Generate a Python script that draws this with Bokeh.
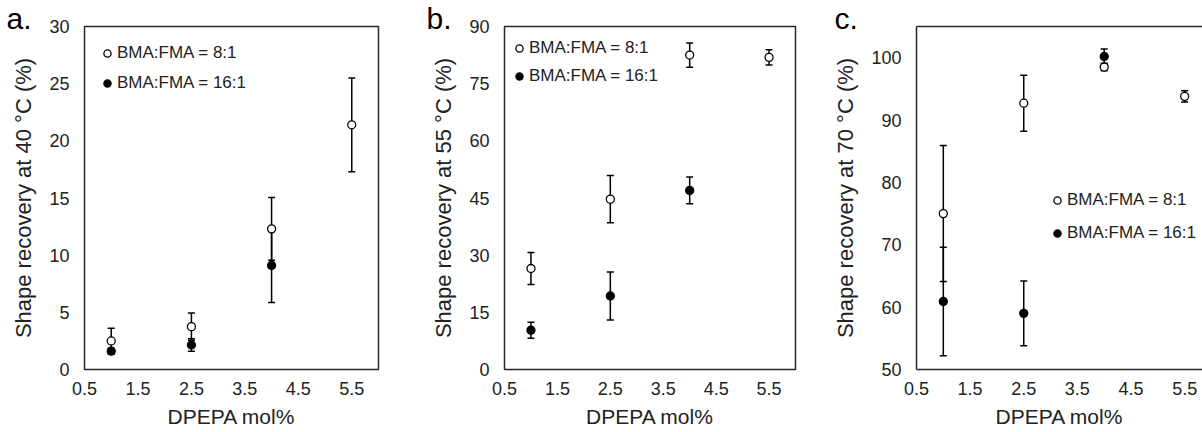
from bokeh.plotting import figure
from bokeh.layouts import row
from bokeh.models import (ColumnDataSource, Whisker, FixedTicker, Range1d, Legend,
                          LegendItem, Title, LinearAxis, TeeHead)
from bokeh.embed import file_html
from bokeh.resources import INLINE

# ---------------- data ----------------
x_ticks = [0.5, 1.5, 2.5, 3.5, 4.5, 5.5]
x_81 = [1.0, 2.5, 4.0, 5.5]
x_161 = [1.0, 2.5, 4.0]
series_labels = ["BMA:FMA = 8:1", "BMA:FMA = 16:1"]
x_title = "DPEPA mol%"

# panel a: 40 °C
a_81 = [2.5, 3.75, 12.3, 21.4]
a_81_err = [1.1, 1.2, 2.75, 4.1]
a_161 = [1.6, 2.15, 9.1]
a_161_err = [0.25, 0.55, 3.25]
a_ticks = [0, 5, 10, 15, 20, 25, 30]

# panel b: 55 °C
b_81 = [26.5, 44.7, 82.5, 81.9]
b_81_err = [4.2, 6.2, 3.2, 2.0]
b_161 = [10.3, 19.3, 47.0]
b_161_err = [2.1, 6.3, 3.5]
b_ticks = [0, 15, 30, 45, 60, 75, 90]

# panel c: 70 °C
c_81 = [75.0, 92.7, 98.5, 93.8]
c_81_err = [10.9, 4.5, 0.6, 0.9]
c_161 = [60.9, 59.0, 100.2]
c_161_err = [8.7, 5.2, 1.2]
c_ticks = [50, 60, 70, 80, 90, 100]

FONT = "Liberation Sans"
LINE = "#262626"
TXT = "#222222"


def add_series(p, xs, ys, errs, filled):
    src = ColumnDataSource(dict(x=xs, y=ys,
                                lo=[y - e for y, e in zip(ys, errs)],
                                hi=[y + e for y, e in zip(ys, errs)]))
    w = Whisker(base="x", upper="hi", lower="lo", source=src,
                line_color="black", line_width=1.5,
                upper_head=TeeHead(size=7, line_color="black", line_width=1.5),
                lower_head=TeeHead(size=7, line_color="black", line_width=1.5))
    p.add_layout(w)
    r = p.scatter("x", "y", source=src, size=8, marker="circle",
                  line_color="black", line_width=1.3,
                  fill_color="black" if filled else "white")
    return r


def panel(letter, ylabel, y0, y1, yticks, v81, e81, v161, e161,
          leg_loc, leg_spacing, width, bl, br, bt, bb, x_end, box,
          lab_dx):
    p = figure(width=width, height=432, x_range=Range1d(0.5, x_end),
               y_range=Range1d(y0, y1), output_backend="svg",
               toolbar_location=None, min_border_left=bl, min_border_right=br,
               min_border_top=bt, min_border_bottom=bb)
    p.xgrid.visible = False
    p.ygrid.visible = False
    p.xaxis.ticker = FixedTicker(ticks=x_ticks)
    p.yaxis.ticker = FixedTicker(ticks=yticks)
    for ax in (p.xaxis, p.yaxis):
        ax.major_tick_line_color = None
        ax.minor_tick_line_color = None
        ax.major_tick_out = 0
        ax.major_tick_in = 0
        ax.minor_tick_out = 0
        ax.major_label_text_font = FONT
        ax.major_label_text_font_size = "18px"
        ax.major_label_text_color = TXT
        ax.axis_label_text_font = FONT
        ax.axis_label_text_font_style = "normal"
        ax.axis_label_text_color = TXT
    p.xaxis.axis_label = x_title
    p.xaxis.axis_label_text_font_size = "21px"
    p.xaxis.major_label_standoff = 12
    p.xaxis.axis_label_standoff = 7
    p.yaxis.axis_label = ylabel
    p.yaxis.axis_label_text_font_size = "22px"
    p.yaxis.major_label_standoff = 15
    p.yaxis.axis_label_standoff = 10

    if box:
        p.outline_line_color = LINE
        p.outline_line_width = 1.5
        p.xaxis.axis_line_color = None
        p.yaxis.axis_line_color = None
    else:
        p.outline_line_color = None
        p.xaxis.axis_line_color = LINE
        p.yaxis.axis_line_color = LINE
        p.xaxis.axis_line_width = 1.5
        p.yaxis.axis_line_width = 1.5
        top = LinearAxis(ticker=FixedTicker(ticks=[]), major_tick_out=0,
                         major_tick_in=0, minor_tick_out=0, minor_tick_in=0,
                         major_label_standoff=0, axis_line_color=LINE,
                         axis_line_width=1.5)
        p.add_layout(top, "above")

    r1 = add_series(p, x_81, v81, e81, False)
    r2 = add_series(p, x_161, v161, e161, True)

    leg = Legend(items=[LegendItem(label=series_labels[0], renderers=[r1]),
                        LegendItem(label=series_labels[1], renderers=[r2])],
                 location=leg_loc, spacing=leg_spacing, padding=0, margin=0,
                 glyph_width=18, glyph_height=18, label_height=20,
                 label_standoff=1, label_text_font=FONT,
                 label_text_font_size="17px", label_text_color=TXT,
                 border_line_color=None, background_fill_alpha=0)
    p.add_layout(leg)

    kw = dict(text=letter, align="left", offset=lab_dx, standoff=-16,
              vertical_align="bottom", text_font=FONT,
              text_font_size="30px", text_font_style="normal",
              text_color="black")
    if "text_baseline" in Title.properties():
        kw["text_baseline"] = "alphabetic"
    p.add_layout(Title(**kw), "above")
    return p


pa = panel("a.", "Shape recovery at 40 °C (%)", 0, 30, a_ticks,
           a_81, a_81_err, a_161, a_161_err, (14, 276), 10,
           425, 84, 47, 26, 62, 6.0, True, -78)
pb = panel("b.", "Shape recovery at 55 °C (%)", 0, 90, b_ticks,
           b_81, b_81_err, b_161, b_161_err, (6, 283), 8,
           405, 79, 35, 24, 63, 6.0, True, -78)
pc = panel("c.", "Shape recovery at 70 °C (%)", 50, 105, c_ticks,
           c_81, c_81_err, c_161, c_161_err, (132, 126), 13,
           372, 84, 0, 25, 62, 5.833, False, -82)

layout = row(pa, pb, pc)
open("out.html", "w").write(file_html(layout, INLINE))
